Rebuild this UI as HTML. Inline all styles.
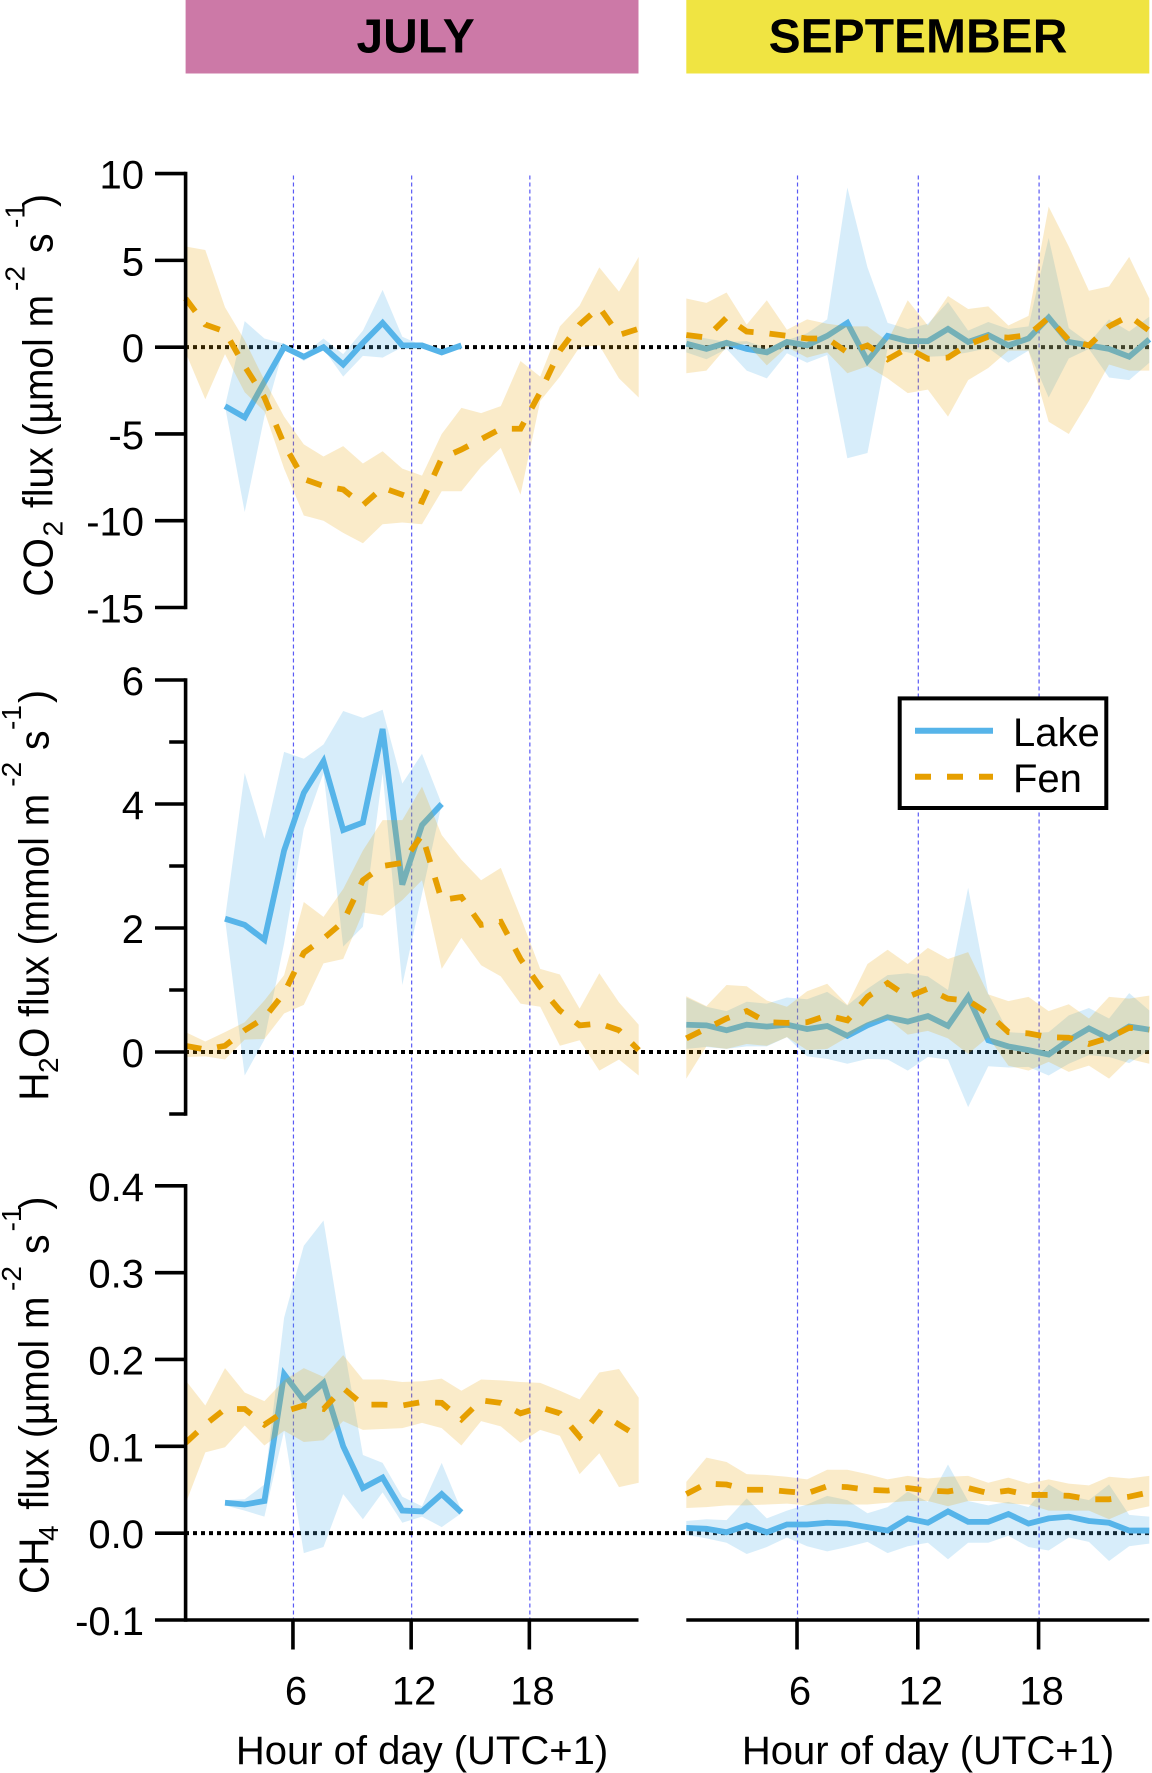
<!DOCTYPE html>
<html lang="en">
<head>
<meta charset="utf-8">
<title>Diurnal CO2, H2O and CH4 fluxes for lake and fen, July and September</title>
<style>
html,body{margin:0;padding:0;background:#fff;}
svg{display:block;}
text{font-family:"Liberation Sans",sans-serif;fill:#000;}
</style>
</head>
<body>
<svg id="chart" xmlns="http://www.w3.org/2000/svg" width="1152" height="1773" viewBox="0 0 1152 1773">
  <rect x="0" y="0" width="1152" height="1773" fill="#ffffff"/>
  <g id="layer-guides"></g>
  <g id="layer-zero"></g>
  <g id="layer-data"></g>
  <g id="layer-axes"></g>

  <rect x="185.6" y="0" width="452.9" height="73.5" fill="#CC79A7"/>
  <text x="415.6" y="52.5" text-anchor="middle" font-size="48" font-weight="bold">JULY</text>
  <rect x="686.3" y="0" width="463" height="73.5" fill="#F0E442"/>
  <text x="918" y="52.5" text-anchor="middle" font-size="48" font-weight="bold">SEPTEMBER</text>

  <g>
    <text transform="translate(52.6,596.6) rotate(-90) scale(1,1.07)" font-size="39">CO</text>
    <text transform="translate(62.3,536.4) rotate(-90)" font-size="28">2</text>
    <text transform="translate(52.6,508) rotate(-90) scale(1,1.07)" font-size="39">flux (µmol m</text>
    <text transform="translate(24.5,291) rotate(-90)" font-size="28">-2</text>
    <text transform="translate(52.6,253) rotate(-90) scale(1,1.07)" font-size="39">s</text>
    <text transform="translate(24.5,228) rotate(-90)" font-size="28">-1</text>
    <text transform="translate(52.6,207) rotate(-90) scale(1,1.07)" font-size="39">)</text>
  </g>
  <g>
    <text transform="translate(48.4,1100.7) rotate(-90) scale(1,1.07)" font-size="39">H</text>
    <text transform="translate(58,1073) rotate(-90)" font-size="28">2</text>
    <text transform="translate(48.4,1058) rotate(-90) scale(1,1.07)" font-size="39">O flux (mmol m</text>
    <text transform="translate(21,786.7) rotate(-90)" font-size="28">-2</text>
    <text transform="translate(48.4,750) rotate(-90) scale(1,1.07)" font-size="39">s</text>
    <text transform="translate(21,730) rotate(-90)" font-size="28">-1</text>
    <text transform="translate(48.4,703) rotate(-90) scale(1,1.07)" font-size="39">)</text>
  </g>
  <g>
    <text transform="translate(48.4,1594) rotate(-90) scale(1,1.07)" font-size="39">CH</text>
    <text transform="translate(58,1541) rotate(-90)" font-size="28">4</text>
    <text transform="translate(48.4,1509.6) rotate(-90) scale(1,1.07)" font-size="39">flux (µmol m</text>
    <text transform="translate(21,1291) rotate(-90)" font-size="28">-2</text>
    <text transform="translate(48.4,1254) rotate(-90) scale(1,1.07)" font-size="39">s</text>
    <text transform="translate(21,1231.4) rotate(-90)" font-size="28">-1</text>
    <text transform="translate(48.4,1209.6) rotate(-90) scale(1,1.07)" font-size="39">)</text>
  </g>

  <text x="422" y="1764" text-anchor="middle" font-size="40">Hour of day (UTC+1)</text>
  <text x="928" y="1764" text-anchor="middle" font-size="40">Hour of day (UTC+1)</text>

  <g>
    <rect x="899.7" y="698.4" width="206.6" height="109.6" fill="#ffffff" stroke="#000000" stroke-width="4"/>
    <line x1="915" y1="730.7" x2="993" y2="730.7" stroke="#56B4E9" stroke-width="6"/>
    <text x="1013" y="746" font-size="40">Lake</text>
    <line x1="915" y1="776.7" x2="993" y2="776.7" stroke="#E69F00" stroke-width="6" stroke-dasharray="16 16"/>
    <text x="1013" y="792" font-size="40">Fen</text>
  </g>
</svg>

<script>
// ---- categories and tick labels ----
const hours = [0.5,1.5,2.5,3.5,4.5,5.5,6.5,7.5,8.5,9.5,10.5,11.5,12.5,13.5,14.5,15.5,16.5,17.5,18.5,19.5,20.5,21.5,22.5,23.5];
const xTicks = [6,12,18];
const co2MajorTicks = [10,5,0,-5,-10,-15];
const co2TickLabels = ['10','5','0','-5','-10','-15'];
const h2oMajorTicks = [6,4,2,0];
const h2oTickLabels = ['6','4','2','0'];
const h2oMinorTicks = [5,3,1,-1];
const ch4MajorTicks = [0.4,0.3,0.2,0.1,0,-0.1];
const ch4TickLabels = ['0.4','0.3','0.2','0.1','0.0','-0.1'];

// ---- CO2, July ----
const julyCo2FenMean  = [2.8,1.3,0.9,-1.1,-2.9,-5.6,-7.6,-8.0,-8.2,-9.1,-8.1,-8.5,-8.9,-6.4,-5.9,-5.3,-4.7,-4.7,-2.6,-0.2,1.3,2.3,0.7,1.06];
const julyCo2FenUpper = [5.8,5.6,2.3,0.4,-1.9,-4.0,-5.6,-6.3,-5.7,-6.7,-6.0,-7.0,-7.4,-5.0,-3.5,-3.8,-3.4,-0.8,-1.7,1.2,2.4,4.6,3.2,5.2];
const julyCo2FenLower = [-0.3,-3.0,-0.4,-2.6,-3.7,-7.0,-9.7,-10.0,-10.7,-11.3,-10.2,-10.1,-10.2,-8.3,-8.3,-6.9,-5.8,-8.5,-3.1,-1.7,0.0,0.1,-1.8,-2.9];
const julyCo2LakeMean  = [null,null,-3.4,-4.05,-2.0,0.0,-0.55,0.0,-1.0,0.25,1.4,0.1,0.1,-0.3,0.1,null,null,null,null,null,null,null,null,null];
const julyCo2LakeUpper = [null,null,-3.4,1.5,0.5,0.2,-0.4,0.5,-0.4,0.95,3.3,0.6,0.1,-0.3,0.1,null,null,null,null,null,null,null,null,null];
const julyCo2LakeLower = [null,null,-3.4,-9.5,-4.0,0.0,-0.8,-0.1,-1.7,-0.5,-0.6,0.0,0.1,-0.3,0.1,null,null,null,null,null,null,null,null,null];

// ---- CO2, September ----
const septCo2FenMean  = [0.7,0.55,1.7,0.9,0.8,0.65,0.5,0.5,-0.3,0.1,-0.7,-0.05,-0.67,-0.6,0.15,0.6,0.55,0.7,1.7,0.4,0.1,1.2,1.8,0.95];
const septCo2FenUpper = [2.8,2.55,3.15,1.3,2.7,1.0,1.6,1.35,1.2,1.2,0.35,2.7,1.25,2.95,2.2,2.35,1.25,1.8,8.1,5.8,3.25,3.5,5.2,2.8];
const septCo2FenLower = [-1.5,-1.35,0.0,0.2,-1.05,0.0,-0.6,-0.3,-1.5,-1.1,-1.8,-2.65,-2.45,-4.0,-1.9,-1.2,-0.2,-0.2,-4.3,-5.0,-3.1,-1.0,-1.35,-1.35];
const septCo2LakeMean  = [0.2,-0.1,0.25,-0.1,-0.3,0.3,0.1,0.65,1.4,-0.8,0.65,0.35,0.35,1.05,0.3,0.7,0.1,0.5,1.7,0.3,0.1,-0.1,-0.55,0.45];
const septCo2LakeUpper = [0.7,0.5,0.3,0.35,-0.05,0.4,0.8,1.6,9.2,4.6,1.4,1.05,1.35,2.6,0.95,1.45,1.05,1.2,6.3,1.1,0.25,1.6,0.9,1.75];
const septCo2LakeLower = [-0.3,-0.7,-0.1,-1.35,-1.8,-0.35,-0.9,-0.45,-6.4,-6.1,-0.05,-0.3,-0.55,-0.5,-0.3,-0.05,-0.9,-0.2,-2.9,-0.65,-0.1,-1.75,-1.9,-0.9];

// ---- H2O, July ----
const julyH2oFenMean  = [0.1,0.04,0.1,0.35,0.55,0.95,1.6,1.83,2.1,2.77,3.0,3.05,3.5,2.45,2.5,2.05,2.1,1.5,1.05,0.67,0.43,0.46,0.35,0.03];
const julyH2oFenUpper = [0.32,0.17,0.32,0.48,0.83,1.24,2.42,2.18,2.63,3.25,3.74,3.74,4.28,3.5,3.1,2.77,2.97,2.18,1.34,1.25,0.7,1.27,0.8,0.44];
const julyH2oFenLower = [-0.08,-0.07,-0.12,0.2,0.21,0.62,0.76,1.43,1.5,2.25,2.2,2.45,2.77,1.34,1.84,1.4,1.22,0.78,0.73,0.1,0.19,-0.3,-0.12,-0.38];
const julyH2oLakeMean  = [null,null,2.15,2.05,1.81,3.25,4.18,4.69,3.58,3.7,5.21,2.7,3.66,4.0,null,null,null,null,null,null,null,null,null,null];
const julyH2oLakeUpper = [null,null,2.15,4.5,3.44,4.84,4.73,4.96,5.5,5.39,5.52,4.33,4.81,4.0,null,null,null,null,null,null,null,null,null,null];
const julyH2oLakeLower = [null,null,2.15,-0.38,0.2,1.75,3.6,4.5,1.7,2.02,4.5,1.08,2.55,4.0,null,null,null,null,null,null,null,null,null,null];

// ---- H2O, September ----
const septH2oFenMean  = [0.22,0.38,0.54,0.66,0.48,0.47,0.48,0.59,0.51,0.89,1.11,0.89,1.02,0.86,0.83,0.62,0.32,0.3,0.24,0.23,0.13,0.23,0.39,0.36];
const septH2oFenUpper = [0.9,0.74,1.08,1.06,0.83,0.73,0.98,1.1,0.76,1.42,1.65,1.42,1.68,1.5,1.61,0.93,0.82,0.89,0.66,0.77,0.54,0.89,0.86,0.91];
const septH2oFenLower = [-0.43,0.09,0.05,0.13,0.1,0.24,0.03,0.05,0.24,0.46,0.54,0.28,0.34,0.22,-0.03,0.24,-0.22,-0.3,-0.16,-0.32,-0.22,-0.43,-0.11,-0.19];
const septH2oLakeMean  = [0.44,0.43,0.35,0.44,0.41,0.44,0.37,0.42,0.26,0.43,0.56,0.49,0.58,0.42,0.89,0.19,0.09,0.03,-0.04,0.19,0.38,0.22,0.41,0.36];
const septH2oLakeUpper = [0.88,0.73,0.66,0.81,0.78,0.88,0.85,0.97,0.75,1.02,1.24,1.27,1.22,1.0,2.65,0.94,0.32,0.3,0.32,0.59,0.71,0.54,0.95,0.67];
const septH2oLakeLower = [0.05,0.08,0.05,0.09,0.09,0.24,-0.07,-0.11,-0.19,-0.11,-0.12,-0.3,-0.08,-0.12,-0.89,-0.23,-0.25,-0.24,-0.38,-0.19,-0.05,-0.08,-0.18,0.03];

// ---- CH4, July ----
const julyCh4FenMean  = [0.104,0.125,0.143,0.143,0.125,0.14,0.147,0.143,0.167,0.148,0.148,0.147,0.151,0.15,0.131,0.153,0.15,0.138,0.145,0.138,0.111,0.139,0.125,0.111];
const julyCh4FenUpper = [0.176,0.147,0.19,0.162,0.152,0.176,0.19,0.18,0.205,0.177,0.177,0.174,0.175,0.178,0.164,0.177,0.176,0.174,0.173,0.164,0.154,0.185,0.189,0.156];
const julyCh4FenLower = [0.034,0.093,0.099,0.124,0.101,0.118,0.105,0.107,0.129,0.119,0.12,0.121,0.127,0.121,0.101,0.129,0.123,0.104,0.119,0.112,0.068,0.092,0.053,0.058];
const julyCh4LakeMean  = [null,null,0.035,0.033,0.037,0.183,0.153,0.173,0.1,0.052,0.064,0.026,0.025,0.045,0.024,null,null,null,null,null,null,null,null,null];
const julyCh4LakeUpper = [null,null,0.038,0.039,0.056,0.248,0.331,0.36,0.22,0.09,0.081,0.042,0.031,0.081,0.026,null,null,null,null,null,null,null,null,null];
const julyCh4LakeLower = [null,null,0.032,0.026,0.019,0.118,-0.023,-0.016,0.045,0.016,0.047,0.012,0.019,0.007,0.023,null,null,null,null,null,null,null,null,null];

// ---- CH4, September ----
const septCh4FenMean  = [0.045,0.057,0.056,0.05,0.05,0.048,0.046,0.054,0.053,0.05,0.049,0.052,0.049,0.048,0.052,0.046,0.049,0.044,0.044,0.043,0.039,0.039,0.042,0.047];
const septCh4FenUpper = [0.059,0.087,0.082,0.068,0.067,0.065,0.062,0.073,0.073,0.068,0.062,0.066,0.063,0.065,0.066,0.058,0.064,0.057,0.062,0.057,0.055,0.065,0.063,0.066];
const septCh4FenLower = [0.029,0.03,0.032,0.032,0.033,0.034,0.032,0.034,0.033,0.033,0.035,0.037,0.037,0.031,0.037,0.037,0.034,0.033,0.026,0.026,0.026,0.016,0.026,0.031];
const septCh4LakeMean  = [0.006,0.005,0.001,0.009,0.001,0.01,0.01,0.012,0.011,0.007,0.003,0.017,0.012,0.025,0.013,0.013,0.022,0.011,0.017,0.019,0.014,0.012,0.003,0.003];
const septCh4LakeUpper = [0.014,0.016,0.015,0.04,0.017,0.026,0.033,0.043,0.038,0.023,0.03,0.048,0.036,0.079,0.037,0.032,0.036,0.03,0.056,0.043,0.038,0.056,0.021,0.019];
const septCh4LakeLower = [-0.002,-0.006,-0.011,-0.024,-0.016,-0.005,-0.015,-0.021,-0.016,-0.01,-0.023,-0.015,-0.011,-0.03,-0.011,-0.011,-0.003,-0.016,-0.02,-0.005,-0.01,-0.032,-0.015,-0.012];

// ---- axis functions ----
function linear(d0, d1, r0, r1) {
  return function (v) { return r0 + (v - d0) * (r1 - r0) / (d1 - d0); };
}
const xJuly = linear(0.5, 23.5, 185.6, 638.7);
const xSept = linear(0.5, 23.5, 686.3, 1149.3);
const yCo2 = linear(-15, 10, 607.5, 173.6);
const yH2o = linear(-1, 6, 1114, 680);
const yCh4 = linear(-0.1, 0.4, 1620, 1185.8);

const SVGNS = 'http://www.w3.org/2000/svg';
const FEN = '#E69F00';
const LAKE = '#56B4E9';
const AXIS_WIDTH = 3.6;
const DATA_WIDTH = 5.8;
const layerGuides = document.getElementById('layer-guides');
const layerZero = document.getElementById('layer-zero');
const layerData = document.getElementById('layer-data');
const layerAxes = document.getElementById('layer-axes');

function make(tag, parent, props) {
  const node = document.createElementNS(SVGNS, tag);
  Object.keys(props).forEach(function (k) { node.setAttribute(k, props[k]); });
  parent.appendChild(node);
  return node;
}

function linePath(mean, xScale, yScale) {
  let d = '';
  hours.forEach(function (h, i) {
    if (mean[i] === null) return;
    d += (d ? 'L' : 'M') + xScale(h).toFixed(2) + ' ' + yScale(mean[i]).toFixed(2);
  });
  return d;
}

function bandPath(upper, lower, xScale, yScale) {
  let top = [];
  let bottom = [];
  hours.forEach(function (h, i) {
    if (upper[i] === null) return;
    top.push(xScale(h).toFixed(2) + ' ' + yScale(upper[i]).toFixed(2));
    bottom.unshift(xScale(h).toFixed(2) + ' ' + yScale(lower[i]).toFixed(2));
  });
  return 'M' + top.concat(bottom).join('L') + 'Z';
}

function drawPanel(key, xScale, yScale, s) {
  const group = make('g', layerData, {});
  
  

  const lakeLine = make('path', group, {d: linePath(s.lakeMean, xScale, yScale), fill: 'none', stroke: LAKE, 'stroke-width': DATA_WIDTH});
  
  

  const lakeBand = make('path', group, {d: bandPath(s.lakeUpper, s.lakeLower, xScale, yScale), fill: LAKE, 'fill-opacity': 0.24});
  
  

  const fenBand = make('path', group, {d: bandPath(s.fenUpper, s.fenLower, xScale, yScale), fill: FEN, 'fill-opacity': 0.21});
  
  

  const fenLine = make('path', group, {d: linePath(s.fenMean, xScale, yScale), fill: 'none', stroke: FEN, 'stroke-width': DATA_WIDTH, 'stroke-dasharray': '16 16'});
  
  
}

function drawZero(key, yScale) {
  const zero = make('line', layerZero, {x1: 185, x2: 1150, y1: yScale(0), y2: yScale(0), stroke: '#000', 'stroke-width': 4, 'stroke-dasharray': '4 4'});
  
  
}

function drawYAxis(key, yScale, majors, labels, minors) {
  const axisX = 185.6;
  const top = yScale(majors[0]);
  const bottom = yScale(Math.min.apply(null, majors.concat(minors)));
  const spine = make('line', layerAxes, {x1: axisX, x2: axisX, y1: top - AXIS_WIDTH / 2, y2: bottom + AXIS_WIDTH / 2, stroke: '#000', 'stroke-width': AXIS_WIDTH});
  
  
  majors.forEach(function (v, i) {
    const tick = make('line', layerAxes, {x1: 155, x2: axisX, y1: yScale(v), y2: yScale(v), stroke: '#000', 'stroke-width': AXIS_WIDTH});
    
    
    const label = make('text', layerAxes, {x: 144, y: yScale(v) + 15, 'text-anchor': 'end', 'font-size': 40});
    label.textContent = labels[i];
    
    
  });
  minors.forEach(function (v) {
    const tick = make('line', layerAxes, {x1: 169.2, x2: axisX, y1: yScale(v), y2: yScale(v), stroke: '#000', 'stroke-width': AXIS_WIDTH});
    
    
  });
}

function drawXAxis(key, xScale, x1, x2, tickShift, labelShift) {
  const axisY = 1620;
  const spine = make('line', layerAxes, {x1: x1, x2: x2, y1: axisY, y2: axisY, stroke: '#000', 'stroke-width': AXIS_WIDTH});
  
  
  xTicks.forEach(function (h) {
    const px = xScale(h) + tickShift;
    const guide = make('line', layerGuides, {x1: px + 0.5, x2: px + 0.5, y1: 175.5, y2: axisY, stroke: '#5A5AF5', 'stroke-width': 1.2, 'stroke-dasharray': '4 3'});
    
    
    const tick = make('line', layerAxes, {x1: px, x2: px, y1: axisY, y2: 1649.5, stroke: '#000', 'stroke-width': AXIS_WIDTH});
    
    
    const label = make('text', layerAxes, {x: px + labelShift, y: 1704.5, 'text-anchor': 'middle', 'font-size': 40});
    label.textContent = String(h);
    
    
  });
}

// ---- draw ----
drawZero('co2', yCo2);
drawZero('h2o', yH2o);
drawZero('ch4', yCh4);

drawPanel('july-co2', xJuly, yCo2, {fenMean: julyCo2FenMean, fenUpper: julyCo2FenUpper, fenLower: julyCo2FenLower, lakeMean: julyCo2LakeMean, lakeUpper: julyCo2LakeUpper, lakeLower: julyCo2LakeLower});
drawPanel('september-co2', xSept, yCo2, {fenMean: septCo2FenMean, fenUpper: septCo2FenUpper, fenLower: septCo2FenLower, lakeMean: septCo2LakeMean, lakeUpper: septCo2LakeUpper, lakeLower: septCo2LakeLower});
drawPanel('july-h2o', xJuly, yH2o, {fenMean: julyH2oFenMean, fenUpper: julyH2oFenUpper, fenLower: julyH2oFenLower, lakeMean: julyH2oLakeMean, lakeUpper: julyH2oLakeUpper, lakeLower: julyH2oLakeLower});
drawPanel('september-h2o', xSept, yH2o, {fenMean: septH2oFenMean, fenUpper: septH2oFenUpper, fenLower: septH2oFenLower, lakeMean: septH2oLakeMean, lakeUpper: septH2oLakeUpper, lakeLower: septH2oLakeLower});
drawPanel('july-ch4', xJuly, yCh4, {fenMean: julyCh4FenMean, fenUpper: julyCh4FenUpper, fenLower: julyCh4FenLower, lakeMean: julyCh4LakeMean, lakeUpper: julyCh4LakeUpper, lakeLower: julyCh4LakeLower});
drawPanel('september-ch4', xSept, yCh4, {fenMean: septCh4FenMean, fenUpper: septCh4FenUpper, fenLower: septCh4FenLower, lakeMean: septCh4LakeMean, lakeUpper: septCh4LakeUpper, lakeLower: septCh4LakeLower});

drawYAxis('co2', yCo2, co2MajorTicks, co2TickLabels, []);
drawYAxis('h2o', yH2o, h2oMajorTicks, h2oTickLabels, h2oMinorTicks);
drawYAxis('ch4', yCh4, ch4MajorTicks, ch4TickLabels, []);

drawXAxis('july', xJuly, 185.6, 638.5, -1, 3);
drawXAxis('september', xSept, 686.3, 1149.3, 0, 3);
</script>
</body>
</html>
